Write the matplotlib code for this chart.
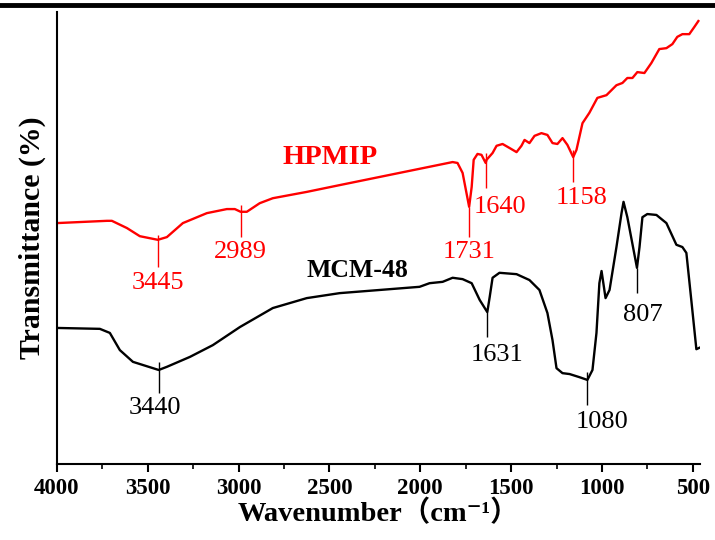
import matplotlib.pyplot as plt
from matplotlib.lines import Line2D
from matplotlib.ticker import MultipleLocator

plt.rcParams['font.family'] = ['Liberation Serif', 'Noto Sans CJK SC', 'DejaVu Serif']

# HPMIP spectrum (wavenumber, transmittance)
hp_wn = [4000, 3725, 3698, 3615, 3544, 3445, 3395, 3307, 3175, 3065, 3021, 2989,
         2955, 2884, 2812, 2625, 2444, 1822, 1795, 1767, 1731, 1717, 1706, 1685,
         1663, 1640, 1635, 1602, 1580, 1547, 1508, 1470, 1443, 1426, 1399, 1371,
         1333, 1300, 1272, 1245, 1217, 1190, 1158, 1140, 1107, 1069, 1025, 975,
         920, 887, 860, 832, 805, 766, 728, 684, 645, 612, 585, 557, 519, 491, 469]
hp_t = [53.3, 53.8, 53.8, 52.2, 50.4, 49.6, 50.2, 53.3, 55.5, 56.4, 56.4, 55.8,
        55.8, 57.7, 58.8, 60.2, 61.7, 66.8, 66.6, 64.4, 56.9, 61.3, 67.3, 68.6,
        68.4, 66.6, 67.3, 68.8, 70.4, 70.8, 69.9, 69.0, 70.4, 71.7, 71.0, 72.6,
        73.2, 72.8, 71.0, 70.8, 72.1, 70.6, 67.9, 69.5, 75.4, 77.7, 81.0, 81.6,
        83.8, 84.3, 85.4, 85.4, 86.7, 86.5, 88.7, 91.8, 92.0, 92.9, 94.5, 95.1,
        95.1, 96.7, 98.0]

# MCM-48 spectrum
mcm_wn = [4000, 3764, 3709, 3654, 3582, 3440, 3395, 3268, 3142, 2993, 2812, 2625,
          2444, 2004, 1949, 1877, 1822, 1767, 1717, 1673, 1631, 1618, 1602, 1564,
          1470, 1399, 1344, 1300, 1272, 1250, 1217, 1178, 1123, 1080, 1052, 1030,
          1014, 1002, 980, 958, 920, 892, 881, 860, 807, 793, 777, 750, 700, 645,
          590, 557, 535, 508, 480, 464]
mcm_t = [30.1, 29.9, 29.0, 25.2, 22.6, 20.8, 21.5, 23.7, 26.3, 30.3, 34.5, 36.7,
         37.8, 39.2, 40.0, 40.3, 41.2, 40.9, 40.0, 36.3, 33.6, 36.9, 41.2, 42.3,
         42.0, 40.7, 38.5, 33.4, 27.4, 21.2, 20.1, 19.9, 19.2, 18.6, 20.8, 29.0,
         40.0, 42.7, 36.7, 38.5, 48.0, 55.5, 58.0, 54.6, 43.4, 48.0, 54.6, 55.3,
         55.1, 53.3, 48.5, 48.0, 46.7, 36.3, 25.4, 25.7]

# peak marks: position, line top, line bottom, label x, label y
hp_peaks = [3445, 2989, 1731, 1640, 1158]
hp_top = [50.7, 57.3, 56.9, 68.8, 69.5]
hp_bot = [43.6, 50.2, 50.2, 61.1, 62.4]
hp_lx = [3445, 2989, 1731, 1563, 1112]
hp_ly = [40.0, 46.9, 46.9, 56.9, 58.8]

mcm_peaks = [3440, 1631, 1080, 807]
mcm_top = [22.6, 33.6, 20.4, 43.4]
mcm_bot = [15.7, 28.1, 13.1, 37.8]
mcm_lx = [3461, 1575, 997, 777]
mcm_ly = [12.4, 24.1, 9.3, 33.0]

fig = plt.figure(figsize=(7.15, 5.40), dpi=100)
ax = fig.add_axes([57 / 715, 76 / 540, 643 / 715, 452 / 540])

ax.plot(hp_wn, hp_t, color='#ff0000', lw=1.7, solid_joinstyle='round')
ax.plot(mcm_wn, mcm_t, color='black', lw=1.7, solid_joinstyle='round')

ax.vlines(hp_peaks, hp_bot, hp_top, color='#ff0000', lw=1.0)
for x, y, p in zip(hp_lx, hp_ly, hp_peaks):
    ax.text(x, y, str(p), color='#ff0000', fontsize=19, ha='center', va='center')
ax.vlines(mcm_peaks, mcm_bot, mcm_top, color='black', lw=1.0)
for x, y, p in zip(mcm_lx, mcm_ly, mcm_peaks):
    ax.text(x, y, str(p), color='black', fontsize=19, ha='center', va='center')

ax.text(2498, 67.7, 'HPMIP', color='#ff0000', fontsize=20.5, fontweight='bold',
        ha='center', va='center')
ax.text(2345, 42.9, 'MCM-48', color='black', fontsize=18.5, fontweight='bold',
        ha='center', va='center')

ax.set_xlim(4000, 460)
ax.set_ylim(0, 100)
ax.xaxis.set_major_locator(MultipleLocator(500))
ax.xaxis.set_minor_locator(MultipleLocator(250))
ax.set_yticks([])
ax.tick_params(axis='x', which='major', direction='out', length=6, width=1.5,
               labelsize=16.5, pad=4)
ax.tick_params(axis='x', which='minor', direction='out', length=3.5, width=1.2)
for lbl in ax.get_xticklabels():
    lbl.set_fontweight('bold')

for s in ['top', 'right']:
    ax.spines[s].set_visible(False)
for s in ['left', 'bottom']:
    ax.spines[s].set_linewidth(1.5)

ax.set_xlabel('Wavenumber（cm⁻¹）', fontsize=20.5, fontweight='bold', labelpad=1)
ax.set_ylabel('Transmittance (%)', fontsize=21.5, fontweight='bold', labelpad=8)

# heavy rule across the top of the figure
fig.add_artist(Line2D([0, 1], [1 - 5 / 540, 1 - 5 / 540], color='black', lw=3.5,
                      transform=fig.transFigure))

fig.savefig('out.png', dpi=100)
